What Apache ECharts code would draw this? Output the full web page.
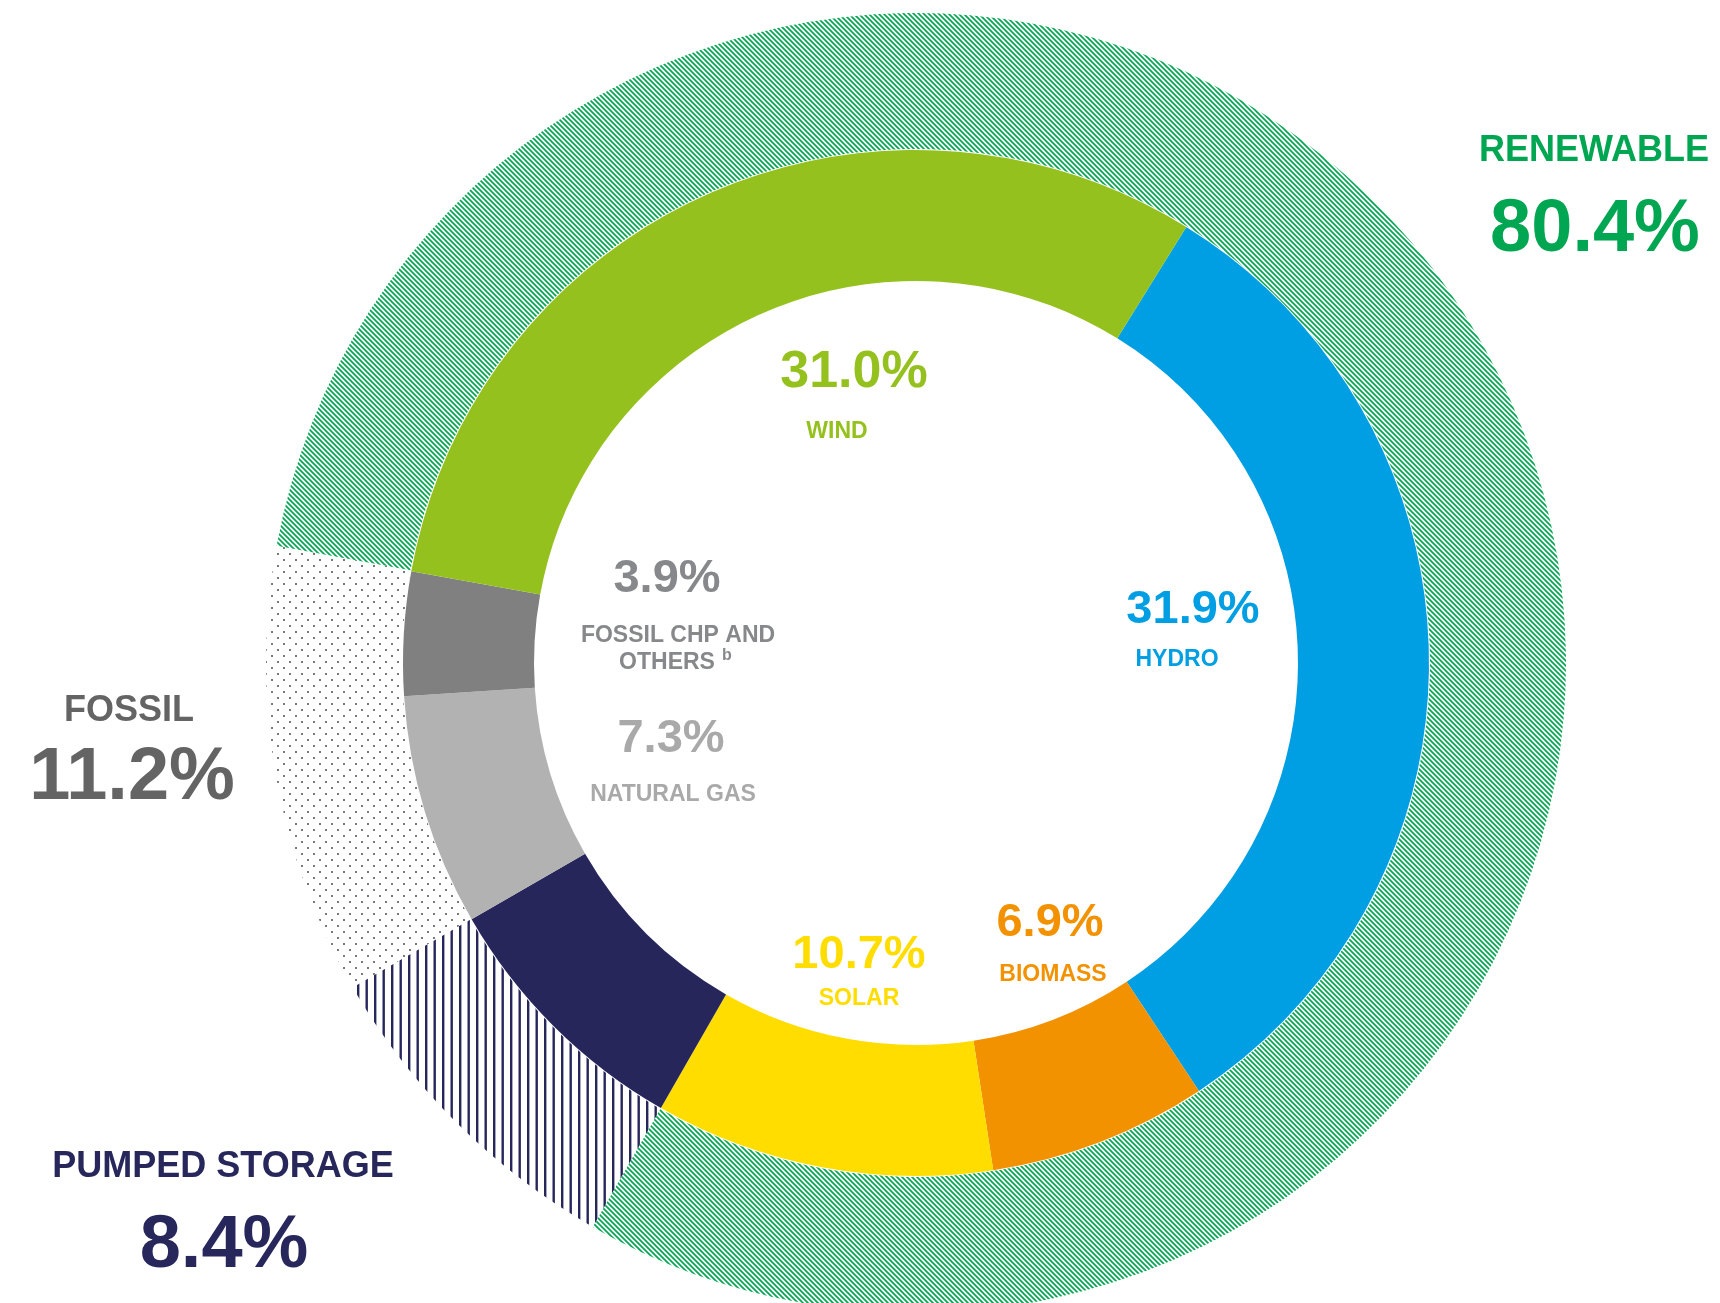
<!DOCTYPE html>
<html>
<head>
<meta charset="utf-8">
<script src="https://cdn.jsdelivr.net/npm/echarts@6/dist/echarts.min.js"></script>
<style>
html,body{margin:0;padding:0;background:#fff;}
#mix-pie{width:1720px;height:1303px;}
</style>
</head>
<body>
<div id="mix-pie"></div>
<script>
// inner ring: generation sources, clockwise from the wind/hydro border
var srcNames  = ['HYDRO', 'BIOMASS', 'SOLAR', 'PUMPED STORAGE', 'NATURAL GAS', 'FOSSIL CHP AND OTHERS', 'WIND'];
var srcValues = [31.9, 6.9, 10.7, 8.4, 7.3, 3.9, 31.0];
var srcColors = ['#009fe3', '#f39200', '#ffdd00', '#27265b', '#b2b2b2', '#808080', '#95c11f'];

// outer ring: groups
var grpNames  = ['PUMPED STORAGE', 'FOSSIL', 'RENEWABLE'];
var grpValues = [8.4, 11.2, 80.4];

var FONT = 'Liberation Sans';

// patterns for the outer ring
function hatchGreen(){
	var c = document.createElement('canvas');
	c.width = 5; c.height = 5;
	var g = c.getContext('2d');
	g.strokeStyle = '#00a651';
	g.lineWidth = 1.7;
	g.beginPath();
	g.moveTo(-1,-1); g.lineTo(6,6);
	g.moveTo(4,-1); g.lineTo(6,1);
	g.moveTo(-1,4); g.lineTo(1,6);
	g.stroke();
	return c;
}
function dotsGrey(){
	var c = document.createElement('canvas');
	c.width = 12; c.height = 12;
	var g = c.getContext('2d');
	g.fillStyle = '#7a7a7a';
	g.fillRect(1,1,2,2);
	g.fillRect(7,7,2,2);
	return c;
}
function stripesNavy(){
	var c = document.createElement('canvas');
	c.width = 17; c.height = 4;
	var g = c.getContext('2d');
	g.fillStyle = '#27265b';
	g.fillRect(0,0,2.4,4);
	g.fillRect(8.5,0,2.4,4);
	return c;
}
var grpFills = [
	{image: stripesNavy(), repeat: 'repeat'},
	{image: dotsGrey(), repeat: 'repeat'},
	{image: hatchGreen(), repeat: 'repeat'}
];

var cx = 916, cy = 663;
var innerStart = 58.2;
var total = 0, firstThree = 0;
for (var i = 0; i < srcValues.length; i++) { total += srcValues[i]; if (i < 3) firstThree += srcValues[i]; }
var outerStart = innerStart - 360 * firstThree / total;

function txt(x, y, s, size, color){
	return {
		type: 'text', x: x, y: y, silent: true,
		style: {text: s, fill: color, font: 'bold ' + size + 'px "' + FONT + '"', textAlign: 'center', textVerticalAlign: 'middle'}
	};
}

var myChart = echarts.init(document.getElementById('mix-pie'));
var srcData = [], grpData = [];
for (var i = 0; i < srcNames.length; i++) {
	srcData.push({value: srcValues[i], name: srcNames[i], itemStyle: {color: srcColors[i]}});
}
for (var i = 0; i < grpNames.length; i++) {
	grpData.push({value: grpValues[i], name: grpNames[i], itemStyle: {color: grpFills[i]}});
}

option = {
	backgroundColor: '#ffffff',
	animation: false,
	series: [
		{
			name: 'groups', type: 'pie',
			center: [cx, cy], radius: [514, 650],
			startAngle: outerStart, clockwise: true,
			label: {show: false}, labelLine: {show: false},
			silent: true,
			data: grpData
		},
		{
			name: 'sources', type: 'pie',
			center: [cx, cy], radius: [382, 513],
			startAngle: innerStart, clockwise: true,
			label: {show: false}, labelLine: {show: false},
			silent: true,
			data: srcData
		}
	],
	graphic: [
		txt(854, 373, srcValues[6].toFixed(1) + '%', 52, '#95c11f'),
		txt(837, 432, 'WIND', 23, '#95c11f'),
		txt(1193, 610, srcValues[0].toFixed(1) + '%', 47, '#009fe3'),
		txt(1177, 660, 'HYDRO', 23, '#009fe3'),
		txt(1050, 923, srcValues[1].toFixed(1) + '%', 47, '#f39200'),
		txt(1053, 975, 'BIOMASS', 23, '#f39200'),
		txt(859, 955, srcValues[2].toFixed(1) + '%', 47, '#ffdd00'),
		txt(859, 999, 'SOLAR', 23, '#ffdd00'),
		txt(667, 579, srcValues[5].toFixed(1) + '%', 47, '#87888b'),
		txt(678, 636, 'FOSSIL CHP AND', 23, '#87888b'),
		txt(667, 663, 'OTHERS', 23, '#87888b'),
		txt(727, 656, 'b', 16, '#87888b'),
		txt(671, 739, srcValues[4].toFixed(1) + '%', 47, '#a9a9a9'),
		txt(673, 795, 'NATURAL GAS', 23, '#a9a9a9'),
		txt(1594, 151, grpNames[2], 36, '#00a651'),
		txt(1595, 231, grpValues[2].toFixed(1) + '%', 74, '#00a651'),
		txt(129, 711, grpNames[1], 36, '#646464'),
		txt(132, 779, grpValues[1].toFixed(1) + '%', 74, '#646464'),
		txt(223, 1167, grpNames[0], 36, '#27275b'),
		txt(224, 1247, grpValues[0].toFixed(1) + '%', 74, '#27275b')
	]
};
myChart.setOption(option);
</script>
</body>
</html>
